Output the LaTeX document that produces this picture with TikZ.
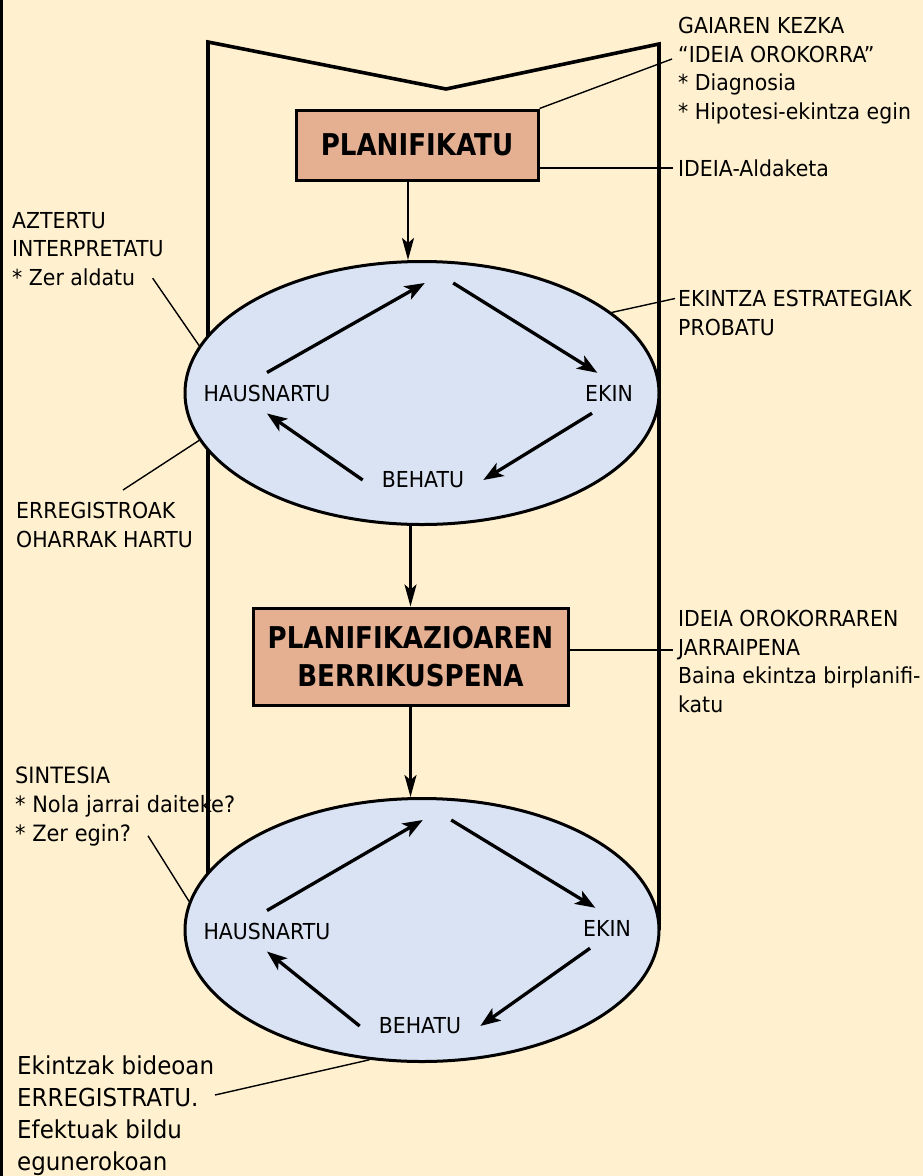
\documentclass[tikz,border=0pt]{standalone}
\usepackage{fontspec}
\setmainfont[FakeStretch=0.93]{DejaVu Sans}
\newfontfamily\stagefont[FakeStretch=0.87]{DejaVu Sans}
\usetikzlibrary{arrows.meta,shapes.geometric}
\definecolor{paper}{HTML}{FFF1CF}
\definecolor{stagefill}{HTML}{E5AF92}
\definecolor{cyclefill}{HTML}{D9E3F3}
\tikzset{
  outline/.style={line width=3.6pt},
  stage/.style={draw,line width=3pt,fill=stagefill,inner sep=0pt,align=center,font=\stagefont\bfseries\fontsize{30}{38}\selectfont},
  loopell/.style={ellipse,draw,line width=3pt,fill=cyclefill,minimum width=474pt,minimum height=263pt,inner sep=0pt},
  act/.style={inner xsep=19pt,inner ysep=12pt,font=\fontsize{22}{26}\selectfont},
  hub/.style={minimum width=28pt,minimum height=2pt,inner sep=0pt},
  note/.style={anchor=north west,inner sep=0pt,align=left,font=\fontsize{22}{28.7}\selectfont},
  cyclearrow/.style={line width=3.3pt,-{Stealth[length=20pt,width=15pt,inset=5pt]}},
  downarrow/.style={line width=2.4pt,-{Stealth[length=22pt,width=12pt,inset=5pt]}},
  leader/.style={line width=1.4pt}
}
\begin{document}
\begin{tikzpicture}[x=1pt,y=1pt,yscale=-1]
\useasboundingbox (0,0) rectangle (923,1176);
%Background
\fill[paper] (0,0) rectangle (923,1176);
\fill[black] (0,0) rectangle (2.5,1176);

%Shape: frame
\draw[outline] (208,930) -- (208,42) -- (446,89) -- (659,44) -- (659,930);

%Ellipses
\node[loopell] (c1) at (422,393) {};
\node[loopell] (c2) at (422,930) {};

%Stages
\node[stage,minimum width=242pt,minimum height=70pt] (plan) at (417,145) {PLANIFIKATU};
\node[stage,minimum width=315pt,minimum height=97pt] (rev) at (410.5,656.5) {PLANIFIKAZIOAREN\\BERRIKUSPENA};

%Vertical arrows
\coordinate (planout) at ([xshift=-9pt]plan.south);
\draw[downarrow] (planout) -- (planout |- c1.north);
\draw[downarrow] (c1.south -| rev.north) -- (rev.north);
\draw[downarrow] (rev.south) -- (rev.south |- c2.north);

%Cycle 1
\node[act] (h1) at (267,393) {HAUSNARTU};
\node[act] (e1) at (609,393) {EKIN};
\node[act] (b1) at (423,480) {BEHATU};
\node[hub] (t1) at (439,283) {};
\draw[cyclearrow] (h1.north) -- (t1.west);
\draw[cyclearrow] (t1.east) -- (e1.120);
\draw[cyclearrow] (e1.230) -- (b1.east);
\draw[cyclearrow] (b1.west) -- (h1.south);

%Cycle 2
\node[act] (h2) at (267,931) {HAUSNARTU};
\node[act] (e2) at (607,928) {EKIN};
\node[act] (b2) at (420,1026) {BEHATU};
\node[hub] (t2) at (437,820) {};
\draw[cyclearrow] (h2.north) -- (t2.west);
\draw[cyclearrow] (t2.east) -- (e2.120);
\draw[cyclearrow] (e2.230) -- (b2.east);
\draw[cyclearrow] (b2.west) -- (h2.south);

% Text Node
\node[note] (gaia) at (678,17) {GAIAREN KEZKA\\“IDEIA OROKORRA”\\* Diagnosia\\* Hipotesi-ekintza egin};
\node[note,anchor=west] (ald) at (678,168) {IDEIA-Aldaketa};
\node[note] (ekst) at (678,290) {EKINTZA ESTRATEGIAK\\PROBATU};
\node[note] (jarr) at (678,610) {IDEIA OROKORRAREN\\JARRAIPENA\\Baina ekintza birplanifi-\\katu};
\node[note] (azt) at (12,212) {AZTERTU\\INTERPRETATU\\* Zer aldatu};
\node[note] (erre) at (16,502) {ERREGISTROAK\\OHARRAK HARTU};
\node[note,font=\fontsize{22.5}{29}\selectfont] (sint) at (15,767) {SINTESIA\\* Nola jarrai daiteke?\\* Zer egin?};
\node[note,font=\fontsize{24.7}{32}\selectfont] (bot) at (17,1056) {Ekintzak bideoan\\ERREGISTRATU.\\Efektuak bildu\\egunerokoan};

%Leader lines (yshift runs downwards here, as y is flipped)
\draw[leader] (plan.north east) -- ([xshift=-6pt,yshift=42pt]gaia.north west);
\draw[leader] (plan.east |- ald.west) -- ([xshift=-5pt]ald.west);
\draw[leader] (c1.23) -- ([xshift=-3pt,yshift=8.5pt]ekst.north west);
\coordinate (jarrend) at ([xshift=-5pt,yshift=40pt]jarr.north west);
\draw[leader] (rev.east |- jarrend) -- (jarrend);
\draw[leader] ([xshift=-11pt,yshift=-8pt]azt.south east) -- (c1.168);
\draw[leader] ([xshift=107pt,yshift=-12pt]erre.north west) -- (c1.192);
\draw[leader] ([xshift=133pt,yshift=-11pt]sint.south west) -- (c2.173);
\draw[leader] ([xshift=198pt,yshift=39pt]bot.north west) -- (c2.248);

\end{tikzpicture}
\end{document}
